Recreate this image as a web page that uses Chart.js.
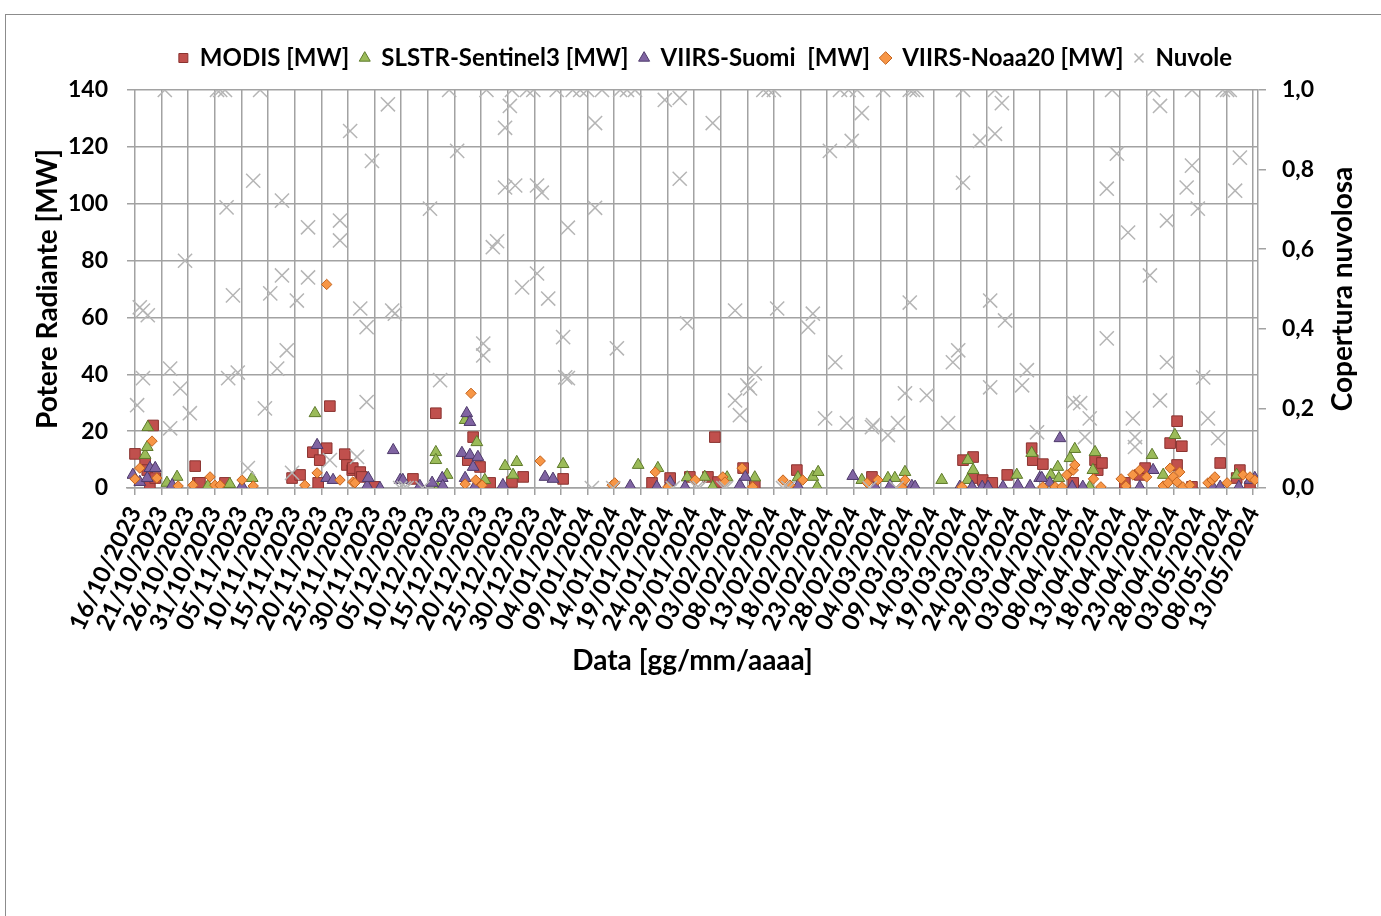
<!DOCTYPE html>
<html><head><meta charset="utf-8">
<script src="https://cdn.jsdelivr.net/npm/chart.js@4.4.1/dist/chart.umd.min.js"></script>
<style>
html,body{margin:0;padding:0;background:#fff;overflow:hidden}
#wrap{position:relative;width:1381px;height:916px;overflow:hidden}
#frame{position:absolute;left:5px;top:14px;width:1420px;height:1000px;border:1px solid #8c8c8c;box-sizing:border-box;pointer-events:none}
canvas{position:absolute;left:0;top:0}
</style></head><body>
<div id="wrap"><canvas id="c" width="1381" height="916"></canvas><div id="frame"></div></div>
<script>
// ---------- data (x = days since 16/10/2023) ----------
const xTickLabels = ['16/10/2023','21/10/2023','26/10/2023','31/10/2023','05/11/2023','10/11/2023','15/11/2023','20/11/2023','25/11/2023','30/11/2023','05/12/2023','10/12/2023','15/12/2023','20/12/2023','25/12/2023','30/12/2023','04/01/2024','09/01/2024','14/01/2024','19/01/2024','24/01/2024','29/01/2024','03/02/2024','08/02/2024','13/02/2024','18/02/2024','23/02/2024','28/02/2024','04/03/2024','09/03/2024','14/03/2024','19/03/2024','24/03/2024','29/03/2024','03/04/2024','08/04/2024','13/04/2024','18/04/2024','23/04/2024','28/04/2024','03/05/2024','08/05/2024','13/05/2024'];
const yTickValues = [0,20,40,60,80,100,120,140];
const y2TickValues = [0,0.2,0.4,0.6,0.8,1.0];
const y2TickLabels = ['0,0','0,2','0,4','0,6','0,8','1,0'];

const seriesNames = ['MODIS [MW]','SLSTR-Sentinel3 [MW]','VIIRS-Suomi  [MW]','VIIRS-Noaa20 [MW]','Nuvole'];

const modisDay = [0,1.9,2.3,2.8,3.4,3.8,11.3,11.8,12.2,16.9,29.5,31,33.4,34.4,34.7,36,36.6,39.4,39.8,40.8,40.9,42.3,42.6,45,52.2,56.5,62.5,63.5,64.8,66.7,70.8,72.9,80.4,97.1,100.5,104.2,107.6,108.9,109.5,114.2,116.4,124.3,138.4,155.5,157.4,157.4,159.2,161,163.8,168.4,168.6,170.5,176.2,180.3,180.8,181.6,185.9,188.7,189.7,194.4,195.7,195.7,196.6,198.5,203.8,206.9,207.5,209.4];
const modisMW  = [12,9,6.3,0.5,22,3.5,7.7,1.8,1.8,1.8,3.5,4.6,12.6,1.8,9.8,14,28.8,11.9,8.1,6.3,7,5.6,3.9,0.4,3.2,26.3,9.8,17.9,7.4,1.8,2.1,3.9,3.2,1.8,3.5,3.9,3.9,17.9,2.1,7,1,6.3,3.9,9.8,10.9,3.5,2.8,1.8,4.6,14,9.8,8.4,1.8,9.8,6.3,8.8,1.8,4.6,7,15.8,23.5,8.1,14.7,0.4,8.8,3.5,6.3,0.4];

const slstrDay = [1.9,2.3,2.4,6,7.9,13.7,17.8,22,33.8,56.5,56.5,56.9,58.6,62,64.2,65.7,69.5,71,71.7,80.4,94.5,98.2,103.7,107,108.5,111.2,116.4,124.5,127.3,128.1,128.3,136.5,141.4,142.7,144.6,151.5,156.4,156.4,157.4,165.6,168.4,172,173.3,173.5,175.6,176.5,179.3,179.9,180.3,191,193.1,195.3,206.9];
const slstrMW  = [11.6,14.4,21.4,1.8,3.9,0.7,1.4,3.5,26.3,12.6,9.8,0,4.6,23.9,16.1,2.8,7.7,4.6,9.1,8.4,8.1,7,3.7,3.9,0.4,3.7,3.7,3.7,3.9,0.4,5.6,2.8,3.5,3.5,5.6,2.8,9.8,2.8,6.3,4.6,12.3,4.6,7.4,3.5,10.5,13.7,0.4,6.3,12.6,11.6,4.6,18.6,4.6];

const suomiDay = [-0.4,0.9,2.3,2.8,3.8,7,20.1,34.2,36,37.2,43.6,43.8,46,48.5,49.8,50.3,53.5,55.8,57.7,57.8,61.4,62,62.3,62.9,62.9,63.5,63.8,64.4,69.1,77,78.5,93,98,100.5,103.3,113.6,114.6,124.5,134.8,139,141.8,145.9,146.5,154.9,157.2,159.1,160.2,163,165.8,168.1,169.9,170.3,171.8,173.7,176,178,188.7,191.2,202.3,203.8,207.3,209.4,210.3];
const suomiMW  = [4.6,2.1,3.5,7,7,1,0.7,15.1,3.5,2.8,0.7,3.5,0,13.3,2.8,2.8,0.7,1.8,3.5,0.7,12.3,3.5,26.3,23.2,11.6,7.4,0.4,10.9,1,3.9,3.2,0.7,0.4,2.1,0.4,1,3.9,0.7,4.2,0.4,0.7,0.7,0.4,0.4,0.4,0.4,0.4,0.4,1,0.7,3.5,3.5,1.8,17.5,0.4,0.4,0.4,6.3,0.7,0.4,0.4,2.8,3.5];

const noaaDay = [0,0.9,3.2,4.1,8.1,10.9,14.1,15,16,20.1,22.2,31.9,34.2,36,38.5,40.9,41.3,62,63.1,64,65.2,76.1,89.6,90.1,97.7,100.1,105.2,110.4,110.8,114,116,121.7,123,125.4,137.5,139.5,144,144.6,155.3,170.5,172.8,174.1,175,176.2,176.5,180,181.4,185.2,186.1,187.4,188.7,190,193.1,194,194.4,195,195.7,196.2,196.8,198.1,201.5,202.3,202.8,205.1,208.1,209.4,210.3];
const noaaMW  = [3.2,7,16.5,3.5,0.7,1,3.9,1,1,2.8,0.7,1,5.3,71.6,2.8,2.1,1.8,1.4,33.3,2.8,1,9.5,1,1.8,5.6,0.4,2.8,3.9,2.1,7,0.4,2.8,1,2.8,1.8,2.8,0.4,2.8,0.4,0.4,0.4,0.4,4.6,6.3,8.1,3.2,0.4,3.2,0.7,4.6,6.3,3.9,0.7,1.8,7,3.9,2.1,5.6,0.4,1,1.8,2.8,3.9,1.8,4.6,3.9,2.8];

const cloudDay = [0.4,0.9,1.5,1.5,2.4,5.6,6.6,6.6,8.5,9.4,10.3,15.4,16,16.9,17.2,17.5,18.4,19.3,21.2,22.2,23.5,24.4,25.4,26.7,27.6,27.6,28.5,29.5,30.4,32.5,32.5,36.6,38.5,38.5,40.4,41.7,42.3,43.5,43.5,44.5,47.5,48.3,48.8,49.8,50.5,51,54,55.4,57.3,59,60.5,65.4,65.4,66,67.2,68,69.5,69.5,70.4,70.8,71.4,72.7,73.6,74.8,75.5,75.5,76.4,77.6,79.2,80.4,80.8,81.3,81.3,82.2,83.6,84.9,85.8,86.4,86.4,87.7,89.8,90.5,91.1,92.4,93.9,99.5,101,102.3,102.3,103.7,105.5,106,108.5,110.5,111,112.7,112.7,113.6,115,115.5,116.4,118,119,120,120.6,121.7,122.7,126.4,127.3,129.6,130.5,131.5,132.4,133.7,134,134.6,135.6,136.5,138,138.4,138.6,140.5,141.4,143,143.3,144.6,145.5,145.5,146.1,146.8,148.7,152.7,153.6,154.6,155.5,155.5,158.7,160.6,160.6,161.5,161.5,162.8,163.4,166.6,167.5,169.4,176.2,177.5,178.4,179.3,182.5,182.5,183.5,184.4,186.5,187.4,187.8,187.8,190.6,191.2,192.5,192.5,193.8,193.8,197.5,198.5,198.5,199.6,200.6,201.5,203.4,204.3,205.1,205.6,206.6,207.5];
const cloudCover = [0.208,0.454,0.446,0.276,0.434,1,0.30,0.15,0.25,0.571,0.188,1,1,1,0.705,0.276,0.484,0.29,0.05,0.772,1,0.2,0.489,0.30,0.722,0.534,0.346,0.038,0.471,0.655,0.529,0.07,0.672,0.622,0.897,0.078,0.451,0.404,0.216,0.822,0.964,0.446,0.438,0,0,0,0,0.702,0.271,1,0.847,0.363,0.333,1,0.605,0.62,0.905,0.755,0.96,1,0.76,0.504,1,1,0.76,0.539,0.742,0.476,1,0.379,0.278,0.276,0.654,1,1,1,0,0.917,0.704,1,0,0.351,1,1,1,0.975,0,0.98,0.777,0.414,0,0,0.917,0,0,0.446,0.22,0.183,0.258,0.25,0.288,1,1,1,0.451,0,0,0.404,0.438,0.175,0.847,0.316,1,0.163,1,0.872,1,0.942,0,0.153,0.158,1,0.133,0,0.163,0.238,1,0.466,1,1,0.233,0.163,0.316,0.346,1,0.767,0.872,0.471,0.253,1,0.89,0.967,0.421,0.258,0.296,0.14,0.216,0.213,0.128,0.175,0.752,0.376,1,0.84,0.642,0.175,0.128,0.103,0.534,1,0.96,0.22,0.672,0.316,0.755,1,0.81,0.702,0.278,0.175,0.125,1,1,1,0.747,0.83];

// ---------- helpers ----------
const pts = (xs, ys) => xs.map((x, i) => ({x, y: ys[i]}));
function dayOf(label) {
  const [d, m, y] = label.split('/').map(Number);
  return Math.round((Date.UTC(y, m - 1, d) - Date.UTC(2023, 9, 16)) / 86400000);
}
const FONT = 'Lato';
const TXT = '#000';
const GRID = '#a2a2a2';

const legendTweak = {
  id: 'legendTweak',
  beforeLayout(chart) {
    const lg = chart.legend;
    if (lg && !lg._gapPatched) {
      const f = lg.fit.bind(lg);
      lg.fit = function () { f(); this.height += 10; };
      lg._gapPatched = true;
    }
  },
  afterLayout(chart) {
    const lg = chart.legend;
    if (lg) { lg.left += 15; lg.right += 15; }
  }
};
const rightTitle = {
  id: 'rightTitle',
  afterDraw(chart) {
    const ctx = chart.ctx, a = chart.chartArea, s = chart.scales.y2;
    ctx.save();
    ctx.font = 'bold 28px ' + FONT;
    ctx.fillStyle = TXT;
    ctx.textAlign = 'center';
    ctx.textBaseline = 'middle';
    ctx.translate(s.right - 38, (a.top + a.bottom) / 2);
    ctx.rotate(-Math.PI / 2);
    ctx.fillText('Copertura nuvolosa', 0, 0);
    ctx.restore();
  }
};

const ds = (label, data, style, fill, border, r, order, axis) => ({
  label, data, yAxisID: axis || 'y', pointStyle: style, pointRadius: r, pointHoverRadius: r,
  backgroundColor: fill, borderColor: border, pointBorderWidth: 1, borderWidth: 1, showLine: false, order
});

new Chart(document.getElementById('c'), {
  type: 'scatter',
  data: {
    datasets: [
      ds(seriesNames[0], pts(modisDay, modisMW), 'rect', '#c0504d', '#8a3330', 7.5, 4),
      ds(seriesNames[1], pts(slstrDay, slstrMW), 'triangle', '#9bbb59', '#5e7a2b', 6.8, 3),
      ds(seriesNames[2], pts(suomiDay, suomiMW), 'triangle', '#8064a2', '#4e3a6b', 6.8, 2),
      ds(seriesNames[3], pts(noaaDay, noaaMW), 'rectRot', '#f79646', '#c3621c', 5.2, 1),
      Object.assign(ds(seriesNames[4], pts(cloudDay, cloudCover), 'crossRot', '#b5b5b5', '#b5b5b5', 10, 0, 'y2'), {pointBorderWidth: 1.5, borderWidth: 1.5})
    ]
  },
  options: {
    responsive: false,
    animation: false,
    devicePixelRatio: 1,
    layout: { padding: { top: 35, left: 0, right: 0, bottom: 0 } },
    plugins: {
      tooltip: { enabled: false },
      legend: {
        position: 'top',
        labels: {
          usePointStyle: true, boxWidth: 9, boxHeight: 9, padding: 11,
          color: TXT, font: { family: FONT, size: 24, weight: 'bold' },
          sort: (a, b) => a.datasetIndex - b.datasetIndex
        }
      }
    },
    scales: {
      x: {
        type: 'linear', min: -1.5, max: 210.9,
        afterBuildTicks: s => { s.ticks = xTickLabels.map(l => ({ value: dayOf(l) })); },
        afterFit: s => { s.height = 428; },
        ticks: {
          autoSkip: false, minRotation: 64, maxRotation: 64, padding: 7, color: TXT,
          font: { family: FONT, size: 24, weight: 'bold' },
          callback: (v, i) => xTickLabels[i]
        },
        grid: { color: GRID, lineWidth: 1.5, tickLength: 7, tickColor: GRID },
        border: { display: true, color: GRID, width: 1.5 },
        title: { display: true, text: 'Data [gg/mm/aaaa]', color: TXT, font: { family: FONT, size: 28, weight: 'bold' }, padding: { top: 0, bottom: 238 } }
      },
      y: {
        position: 'left', min: 0, max: 140,
        afterBuildTicks: s => { s.ticks = yTickValues.map(v => ({ value: v })); },
        afterFit: s => { s.width = 127; },
        ticks: { padding: 19, color: TXT, font: { family: FONT, size: 23, weight: 'bold' } },
        grid: { color: GRID, lineWidth: 1.5, drawTicks: false },
        border: { display: false },
        title: { display: true, text: 'Potere Radiante [MW]', color: TXT, font: { family: FONT, size: 28, weight: 'bold' }, padding: { top: 31, bottom: 0 } }
      },
      y2: {
        position: 'right', min: 0, max: 1,
        afterBuildTicks: s => { s.ticks = y2TickValues.map(v => ({ value: v })); },
        afterFit: s => { s.width = 123; },
        ticks: { padding: 16, color: TXT, font: { family: FONT, size: 23, weight: 'bold' }, callback: (v, i) => y2TickLabels[i] },
        grid: { drawOnChartArea: false, color: GRID, lineWidth: 1.5, tickLength: 8, tickColor: GRID },
        border: { display: true, color: GRID, width: 1.5 }
      }
    }
  },
  plugins: [legendTweak, rightTitle]
});
</script>
</body></html>
